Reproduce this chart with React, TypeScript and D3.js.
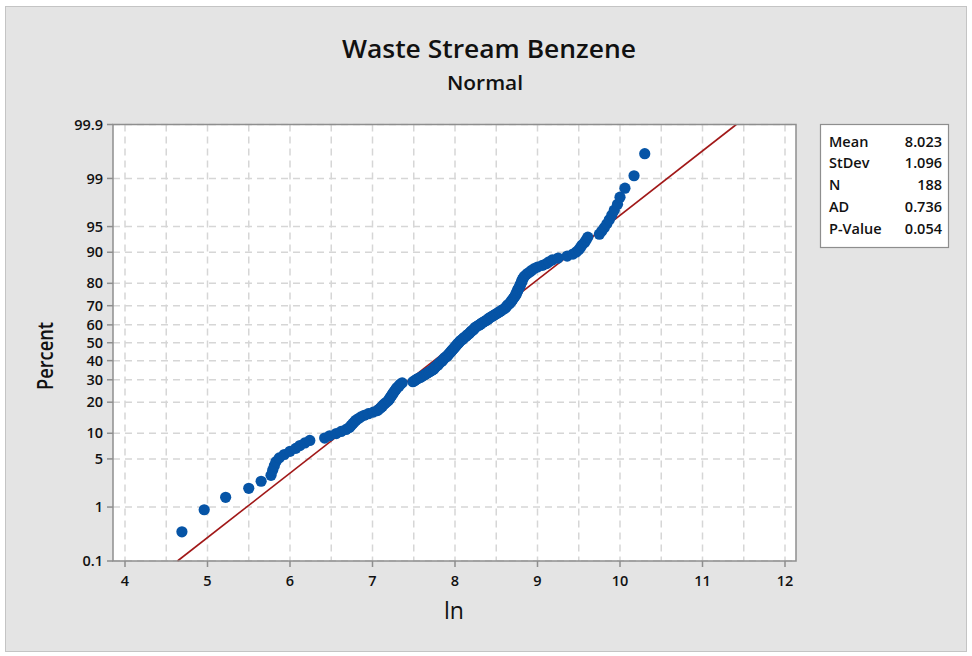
import React from "react";
import * as d3 from "d3";

const lnValues: number[] = [
    4.69, 4.96, 5.22, 5.50, 5.65, 5.77, 5.79, 5.81, 5.83, 5.87,
    5.93, 6.00, 6.07, 6.12, 6.18, 6.24, 6.42, 6.48, 6.56, 6.62,
    6.68, 6.72, 6.74, 6.76, 6.78, 6.80, 6.83, 6.86, 6.90, 6.95,
    7.01, 7.06, 7.08, 7.10, 7.12, 7.13, 7.15, 7.17, 7.19, 7.20,
    7.21, 7.22, 7.23, 7.24, 7.25, 7.26, 7.27, 7.28, 7.29, 7.30,
    7.32, 7.33, 7.34, 7.36,
    7.49, 7.51, 7.53, 7.55, 7.58, 7.60,
    7.62, 7.64, 7.66, 7.68, 7.70, 7.72, 7.74, 7.75, 7.76, 7.77,
    7.79, 7.80, 7.81, 7.82, 7.84, 7.85, 7.86, 7.87, 7.88, 7.90,
    7.91, 7.92, 7.93, 7.94, 7.95, 7.96, 7.97, 7.98, 7.99, 8.00,
    8.01, 8.02, 8.03, 8.04, 8.05, 8.06, 8.07, 8.09, 8.10, 8.11,
    8.13, 8.14, 8.15, 8.17, 8.18, 8.19, 8.20, 8.22, 8.23, 8.24,
    8.25, 8.27, 8.29, 8.31, 8.32, 8.34, 8.36, 8.38, 8.40, 8.41,
    8.43, 8.45, 8.47, 8.49, 8.51, 8.53, 8.55, 8.57, 8.59, 8.61,
    8.62, 8.63, 8.64, 8.66, 8.67, 8.68, 8.69, 8.70, 8.71, 8.72,
    8.73, 8.74, 8.74, 8.75, 8.76, 8.76, 8.77, 8.78, 8.79, 8.79,
    8.80, 8.81, 8.81, 8.82, 8.83, 8.84, 8.86, 8.88, 8.91, 8.93,
    8.96, 9.00, 9.06, 9.11, 9.14, 9.18, 9.25, 9.36, 9.43, 9.47,
    9.50, 9.52, 9.54, 9.57, 9.59, 9.61, 9.75, 9.78, 9.81, 9.84,
    9.87, 9.90, 9.93, 9.97, 10.00, 10.06, 10.17, 10.30
];

const percentTicks = [0.1, 1, 5, 10, 20, 30, 40, 50, 60, 70, 80, 90, 95, 99, 99.9];
const xTicks = [4, 5, 6, 7, 8, 9, 10, 11, 12];
const xGridTicks = [4, 4.5, 5, 5.5, 6, 6.5, 7, 7.5, 8, 8.5, 9, 9.5, 10, 10.5, 11, 11.5, 12];

const statLabels = ["Mean", "StDev", "N", "AD", "P-Value"];
const statValues = ["8.023", "1.096", "188", "0.736", "0.054"];
const fitMean = 8.023;
const fitSd = 1.096;

const FONT = "'Open Sans', 'Noto Sans', sans-serif";

// inverse normal cdf (Acklam)
function probit(p: number): number {
    const a = [-39.69683028665376, 220.9460984245205, -275.9285104469687, 138.357751867269, -30.66479806614716, 2.506628277459239];
    const b = [-54.47609879822406, 161.5858368580409, -155.6989798598866, 66.80131188771972, -13.28068155288572];
    const c = [-0.007784894002430293, -0.3223964580411365, -2.400758277161838, -2.549732539343734, 4.374664141464968, 2.938163982698783];
    const d = [0.007784695709041462, 0.3224671290700398, 2.445134137142996, 3.754408661907416];
    const plow = 0.02425;
    if (p < plow) {
        const q = Math.sqrt(-2 * Math.log(p));
        return (((((c[0] * q + c[1]) * q + c[2]) * q + c[3]) * q + c[4]) * q + c[5]) /
            ((((d[0] * q + d[1]) * q + d[2]) * q + d[3]) * q + 1);
    }
    if (p <= 1 - plow) {
        const q = p - 0.5;
        const r = q * q;
        return (((((a[0] * r + a[1]) * r + a[2]) * r + a[3]) * r + a[4]) * r + a[5]) * q /
            (((((b[0] * r + b[1]) * r + b[2]) * r + b[3]) * r + b[4]) * r + 1);
    }
    const q = Math.sqrt(-2 * Math.log(1 - p));
    return -(((((c[0] * q + c[1]) * q + c[2]) * q + c[3]) * q + c[4]) * q + c[5]) /
        ((((d[0] * q + d[1]) * q + d[2]) * q + d[3]) * q + 1);
}

const App = () => {
    const width = 972;
    const height = 656;
    const plot = { left: 113, right: 796, top: 124.5, bottom: 561 };

    const x = d3.scaleLinear().domain([4, 12]).range([125, 785]);
    const zMin = probit(0.001);
    const zMax = probit(0.999);
    const y = d3.scaleLinear().domain([zMin, zMax]).range([plot.bottom, plot.top]);

    const n = lnValues.length;
    const points = lnValues.map((v, i) => ({ v, z: probit((i + 1 - 0.3) / (n + 0.4)) }));

    const fitLine = d3.line<number>()
        .x(z => x(fitMean + fitSd * z))
        .y(z => y(z));

    const tickFont = { fontFamily: FONT, fontSize: 14.5, fontWeight: 600, fill: "#111" };

    return (
        <svg width={width} height={height} style={{ position: "absolute", left: 0, top: 0 }}>
            <rect x={0} y={0} width={width} height={height} fill="#ffffff" />
            <rect x={5.5} y={6.5} width={961} height={645} fill="#e4e4e4" stroke="#c4c4c4" />

            <text x={489} y={58} textAnchor="middle" fontFamily={FONT} fontSize={26} fontWeight={600} fill="#111"
                textLength={294} lengthAdjust="spacingAndGlyphs">
                Waste Stream Benzene
            </text>
            <text x={485} y={90} textAnchor="middle" fontFamily={FONT} fontSize={20} fontWeight={600} fill="#111"
                textLength={76} lengthAdjust="spacingAndGlyphs">
                Normal
            </text>

            <rect x={plot.left} y={plot.top} width={plot.right - plot.left} height={plot.bottom - plot.top} fill="#ffffff" />

            {/* grid */}
            {xGridTicks.map(t => (
                <line key={"gx" + t} x1={x(t)} x2={x(t)} y1={plot.top} y2={plot.bottom}
                    stroke="#d6d6d6" strokeWidth={1.5} strokeDasharray="7,5" />
            ))}
            {percentTicks.map(p => (
                <line key={"gy" + p} x1={plot.left} x2={plot.right} y1={y(probit(p / 100))} y2={y(probit(p / 100))}
                    stroke="#d6d6d6" strokeWidth={1.5} strokeDasharray="7,5" />
            ))}

            {/* fitted line */}
            <path d={fitLine([zMin, zMax]) || ""} fill="none" stroke="#a11818" strokeWidth={1.6} />

            {/* points */}
            {points.map((d, i) => (
                <circle key={i} cx={x(d.v)} cy={y(d.z)} r={5.6} fill="#0654a6" />
            ))}

            {/* frame */}
            <rect x={plot.left} y={plot.top} width={plot.right - plot.left} height={plot.bottom - plot.top}
                fill="none" stroke="#8e8e8e" strokeWidth={1.5} />

            {/* y axis */}
            {percentTicks.map(p => {
                const yy = y(probit(p / 100));
                return (
                    <g key={"ty" + p}>
                        <line x1={plot.left - 6} x2={plot.left} y1={yy} y2={yy} stroke="#8e8e8e" strokeWidth={1.5} />
                        <text x={plot.left - 10} y={yy} dy="0.35em" textAnchor="end" {...tickFont}>{p}</text>
                    </g>
                );
            })}

            {/* x axis */}
            {xTicks.map(t => (
                <g key={"tx" + t}>
                    <line x1={x(t)} x2={x(t)} y1={plot.bottom} y2={plot.bottom + 6} stroke="#8e8e8e" strokeWidth={1.5} />
                    <text x={x(t)} y={plot.bottom + 25} textAnchor="middle" {...tickFont}>{t}</text>
                </g>
            ))}

            <text x={454} y={619} textAnchor="middle" fontFamily={FONT} fontSize={23} fill="#111">ln</text>
            <text transform="translate(53,356) rotate(-90)" textAnchor="middle" fontFamily={FONT} fontSize={21}
                fontWeight={600} fill="#111" textLength={68} lengthAdjust="spacingAndGlyphs">Percent</text>

            {/* stats box */}
            <rect x={820.5} y={124.5} width={128} height={123} fill="#ffffff" stroke="#8e8e8e" strokeWidth={1.2} />
            {statLabels.map((s, i) => (
                <g key={s}>
                    <text x={829} y={146.5 + i * 21.8} fontFamily={FONT} fontSize={14.5} fontWeight={600} fill="#111">{s}</text>
                    <text x={942} y={146.5 + i * 21.8} textAnchor="end" fontFamily={FONT} fontSize={14.5} fontWeight={600}
                        fill="#111">
                        {statValues[i]}
                    </text>
                </g>
            ))}
        </svg>
    );
};

export default App;
